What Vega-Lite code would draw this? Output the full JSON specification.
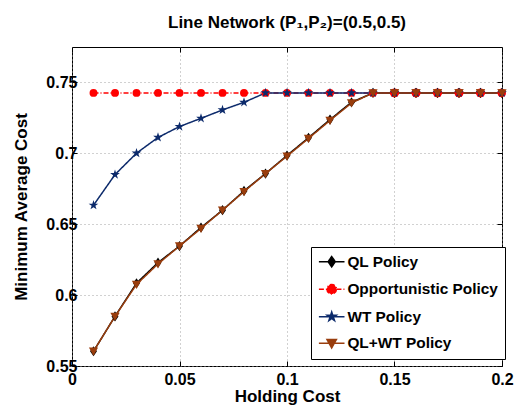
{
  "$schema": "https://vega.github.io/schema/vega-lite/v6.json",
  "width": 430,
  "height": 319,
  "autosize": "none",
  "padding": {"left": 72, "top": 47, "right": 14, "bottom": 44},
  "background": "white",
  "title": {"text": "Line Network (P₁,P₂)=(0.5,0.5)", "font": "Liberation Sans", "fontSize": 17, "fontWeight": "bold", "color": "black", "offset": 15},
  "config": {
    "view": {"stroke": "black", "strokeWidth": 1},
    "axis": {
      "labelFont": "Liberation Sans", "labelFontSize": 16, "labelFontWeight": "bold", "labelColor": "black",
      "titleFont": "Liberation Sans", "titleFontSize": 17, "titleFontWeight": "bold", "titleColor": "black",
      "domain": false, "tickColor": "black", "tickSize": -5,
      "gridColor": "#999999", "gridDash": [1, 3], "gridOpacity": 0.9
    },
    "legend": {
      "labelFont": "Liberation Sans", "labelFontSize": 15.4, "labelFontWeight": "bold", "labelColor": "black"
    }
  },
  "resolve": {"axis": {"x": "independent", "y": "independent"}},
  "data": {"values": [
    {"h":0.01,"cost":0.5604,"policy":"QL Policy"},
    {"h":0.02,"cost":0.585,"policy":"QL Policy"},
    {"h":0.03,"cost":0.6084,"policy":"QL Policy"},
    {"h":0.04,"cost":0.6229,"policy":"QL Policy"},
    {"h":0.05,"cost":0.6346,"policy":"QL Policy"},
    {"h":0.06,"cost":0.6477,"policy":"QL Policy"},
    {"h":0.07,"cost":0.6599,"policy":"QL Policy"},
    {"h":0.08,"cost":0.6735,"policy":"QL Policy"},
    {"h":0.09,"cost":0.6857,"policy":"QL Policy"},
    {"h":0.10,"cost":0.6985,"policy":"QL Policy"},
    {"h":0.11,"cost":0.711,"policy":"QL Policy"},
    {"h":0.12,"cost":0.7238,"policy":"QL Policy"},
    {"h":0.13,"cost":0.736,"policy":"QL Policy"},
    {"h":0.14,"cost":0.7426,"policy":"QL Policy"},
    {"h":0.15,"cost":0.7426,"policy":"QL Policy"},
    {"h":0.16,"cost":0.7426,"policy":"QL Policy"},
    {"h":0.17,"cost":0.7426,"policy":"QL Policy"},
    {"h":0.18,"cost":0.7426,"policy":"QL Policy"},
    {"h":0.19,"cost":0.7426,"policy":"QL Policy"},
    {"h":0.20,"cost":0.7426,"policy":"QL Policy"},
    {"h":0.01,"cost":0.7426,"policy":"Opportunistic Policy"},
    {"h":0.02,"cost":0.7426,"policy":"Opportunistic Policy"},
    {"h":0.03,"cost":0.7426,"policy":"Opportunistic Policy"},
    {"h":0.04,"cost":0.7426,"policy":"Opportunistic Policy"},
    {"h":0.05,"cost":0.7426,"policy":"Opportunistic Policy"},
    {"h":0.06,"cost":0.7426,"policy":"Opportunistic Policy"},
    {"h":0.07,"cost":0.7426,"policy":"Opportunistic Policy"},
    {"h":0.08,"cost":0.7426,"policy":"Opportunistic Policy"},
    {"h":0.09,"cost":0.7426,"policy":"Opportunistic Policy"},
    {"h":0.10,"cost":0.7426,"policy":"Opportunistic Policy"},
    {"h":0.11,"cost":0.7426,"policy":"Opportunistic Policy"},
    {"h":0.12,"cost":0.7426,"policy":"Opportunistic Policy"},
    {"h":0.13,"cost":0.7426,"policy":"Opportunistic Policy"},
    {"h":0.14,"cost":0.7426,"policy":"Opportunistic Policy"},
    {"h":0.15,"cost":0.7426,"policy":"Opportunistic Policy"},
    {"h":0.16,"cost":0.7426,"policy":"Opportunistic Policy"},
    {"h":0.17,"cost":0.7426,"policy":"Opportunistic Policy"},
    {"h":0.18,"cost":0.7426,"policy":"Opportunistic Policy"},
    {"h":0.19,"cost":0.7426,"policy":"Opportunistic Policy"},
    {"h":0.20,"cost":0.7426,"policy":"Opportunistic Policy"},
    {"h":0.01,"cost":0.6634,"policy":"WT Policy"},
    {"h":0.02,"cost":0.685,"policy":"WT Policy"},
    {"h":0.03,"cost":0.7001,"policy":"WT Policy"},
    {"h":0.04,"cost":0.7112,"policy":"WT Policy"},
    {"h":0.05,"cost":0.7189,"policy":"WT Policy"},
    {"h":0.06,"cost":0.7247,"policy":"WT Policy"},
    {"h":0.07,"cost":0.7306,"policy":"WT Policy"},
    {"h":0.08,"cost":0.736,"policy":"WT Policy"},
    {"h":0.09,"cost":0.7426,"policy":"WT Policy"},
    {"h":0.10,"cost":0.7426,"policy":"WT Policy"},
    {"h":0.11,"cost":0.7426,"policy":"WT Policy"},
    {"h":0.12,"cost":0.7426,"policy":"WT Policy"},
    {"h":0.13,"cost":0.7426,"policy":"WT Policy"},
    {"h":0.14,"cost":0.7426,"policy":"WT Policy"},
    {"h":0.15,"cost":0.7426,"policy":"WT Policy"},
    {"h":0.16,"cost":0.7426,"policy":"WT Policy"},
    {"h":0.17,"cost":0.7426,"policy":"WT Policy"},
    {"h":0.18,"cost":0.7426,"policy":"WT Policy"},
    {"h":0.19,"cost":0.7426,"policy":"WT Policy"},
    {"h":0.20,"cost":0.7426,"policy":"WT Policy"},
    {"h":0.01,"cost":0.5604,"policy":"QL+WT Policy"},
    {"h":0.02,"cost":0.585,"policy":"QL+WT Policy"},
    {"h":0.03,"cost":0.6075,"policy":"QL+WT Policy"},
    {"h":0.04,"cost":0.622,"policy":"QL+WT Policy"},
    {"h":0.05,"cost":0.6346,"policy":"QL+WT Policy"},
    {"h":0.06,"cost":0.647,"policy":"QL+WT Policy"},
    {"h":0.07,"cost":0.6599,"policy":"QL+WT Policy"},
    {"h":0.08,"cost":0.673,"policy":"QL+WT Policy"},
    {"h":0.09,"cost":0.6857,"policy":"QL+WT Policy"},
    {"h":0.10,"cost":0.698,"policy":"QL+WT Policy"},
    {"h":0.11,"cost":0.7105,"policy":"QL+WT Policy"},
    {"h":0.12,"cost":0.7232,"policy":"QL+WT Policy"},
    {"h":0.13,"cost":0.7355,"policy":"QL+WT Policy"},
    {"h":0.14,"cost":0.7426,"policy":"QL+WT Policy"},
    {"h":0.15,"cost":0.7426,"policy":"QL+WT Policy"},
    {"h":0.16,"cost":0.7426,"policy":"QL+WT Policy"},
    {"h":0.17,"cost":0.7426,"policy":"QL+WT Policy"},
    {"h":0.18,"cost":0.7426,"policy":"QL+WT Policy"},
    {"h":0.19,"cost":0.7426,"policy":"QL+WT Policy"},
    {"h":0.20,"cost":0.7426,"policy":"QL+WT Policy"}
  ]},
  "encoding": {
    "color": {"field": "policy", "type": "nominal",
      "scale": {"domain": ["QL Policy", "Opportunistic Policy", "WT Policy", "QL+WT Policy"], "range": ["#000000", "#ff0000", "#0c2a6b", "#993d0d"]},
      "legend": {"title": null, "orient": "none", "legendX": 239, "legendY": 200, "strokeColor": "black", "fillColor": "white", "padding": 7, "rowPadding": 9.5, "symbolSize": 90, "symbolStrokeWidth": 1.5, "symbolOffset": 6, "labelOffset": 8, "symbolOpacity": 1}}
  },
  "layer": [
    {
      "mark": {"type": "line", "strokeWidth": 1.5},
      "encoding": {
        "x": {"field": "h", "type": "quantitative", "scale": {"domain": [0, 0.2], "nice": false, "zero": false},
          "axis": {"title": "Holding Cost", "values": [0, 0.05, 0.1, 0.15, 0.2], "format": ".2~f", "labelPadding": 10, "titlePadding": 1, "labelFlush": false}},
        "y": {"field": "cost", "type": "quantitative", "scale": {"domain": [0.55, 0.775], "nice": false, "zero": false},
          "axis": {"title": "Minimum Average Cost", "values": [0.55, 0.6, 0.65, 0.7, 0.75], "format": ".2~f", "labelPadding": 0, "titlePadding": 15, "labelFlush": false}},
        "strokeDash": {"field": "policy", "type": "nominal", "legend": {"title": null},
          "scale": {"domain": ["QL Policy", "Opportunistic Policy", "WT Policy", "QL+WT Policy"], "range": [[1, 0], [5, 2, 1, 2], [1, 0], [1, 0]]}}
      }
    },
    {
      "transform": [{"filter": "datum.h >= 0.145"}],
      "mark": {"type": "point", "filled": true, "opacity": 1, "size": 80, "strokeWidth": 1.5, "clip": true},
      "encoding": {
        "x": {"field": "h", "type": "quantitative", "scale": {"domain": [0, 0.2], "nice": false, "zero": false},
          "axis": {"orient": "top", "title": null, "labels": false, "grid": false, "values": [0, 0.05, 0.1, 0.15, 0.2]}},
        "y": {"field": "cost", "type": "quantitative", "scale": {"domain": [0.55, 0.775], "nice": false, "zero": false},
          "axis": {"orient": "right", "title": null, "labels": false, "grid": false, "values": [0.55, 0.6, 0.65, 0.7, 0.75]}},
        "shape": {"field": "policy", "type": "nominal", "legend": {"title": null},
          "scale": {"domain": ["QL Policy", "Opportunistic Policy", "WT Policy", "QL+WT Policy"],
            "range": ["M-2.7,0L2.7,0M0,-1.1L0.75,0L0,1.1L-0.75,0Z", "M-2.7,0L-1,0M1,0L2.7,0M1,0A1,1,0,1,1,-1,0A1,1,0,1,1,1,0Z", "M-2.7,0L2.7,0M0,-1L0.225,-0.309L0.951,-0.309L0.363,0.118L0.588,0.809L0,0.382L-0.588,0.809L-0.363,0.118L-0.951,-0.309L-0.225,-0.309Z", "M-2.7,0L2.7,0M-1,-0.8L1,-0.8L0,1Z"]}}
      }
    },
    {
      "transform": [{"filter": "datum.policy === 'QL Policy'"}],
      "mark": {"type": "point", "filled": true, "opacity": 1, "size": 85, "shape": "M0,-1.1L0.75,0L0,1.1L-0.75,0Z"},
      "encoding": {"x": {"field": "h", "type": "quantitative", "axis": null}, "y": {"field": "cost", "type": "quantitative", "axis": null}}
    },
    {
      "transform": [{"filter": "datum.policy === 'Opportunistic Policy'"}],
      "mark": {"type": "point", "filled": true, "opacity": 1, "size": 62, "shape": "circle"},
      "encoding": {"x": {"field": "h", "type": "quantitative", "axis": null}, "y": {"field": "cost", "type": "quantitative", "axis": null}}
    },
    {
      "transform": [{"filter": "datum.policy === 'WT Policy'"}],
      "mark": {"type": "point", "filled": true, "opacity": 1, "size": 105, "shape": "M0,-1L0.225,-0.309L0.951,-0.309L0.363,0.118L0.588,0.809L0,0.382L-0.588,0.809L-0.363,0.118L-0.951,-0.309L-0.225,-0.309Z"},
      "encoding": {"x": {"field": "h", "type": "quantitative", "axis": null}, "y": {"field": "cost", "type": "quantitative", "axis": null}}
    },
    {
      "transform": [{"filter": "datum.policy === 'QL+WT Policy'"}],
      "mark": {"type": "point", "filled": true, "opacity": 1, "size": 85, "shape": "M-1,-0.8L1,-0.8L0,1Z"},
      "encoding": {"x": {"field": "h", "type": "quantitative", "axis": null}, "y": {"field": "cost", "type": "quantitative", "axis": null}}
    }
  ]
}
